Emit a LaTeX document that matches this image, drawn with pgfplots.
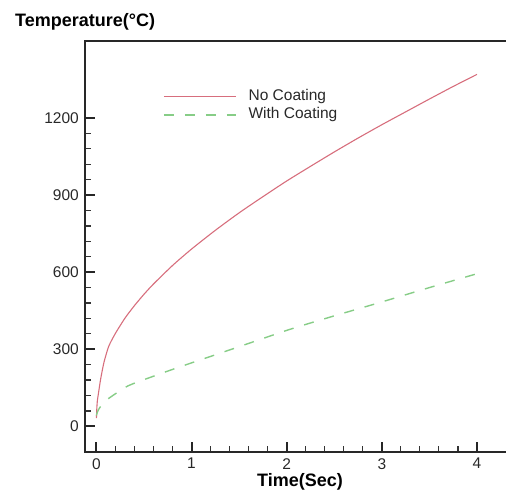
\documentclass[border=0pt]{standalone}
\usepackage{fontspec}
\setmainfont{Liberation Sans}
\usepackage{pgfplots}
\pgfplotsset{compat=1.18}
\definecolor{redline}{RGB}{215,110,125}
\definecolor{greenline}{RGB}{135,205,135}
\definecolor{axgray}{RGB}{40,40,40}
\begin{document}
\begin{tikzpicture}
\useasboundingbox (-85pt,-41pt) rectangle (421pt,452pt);
\begin{axis}[
  at={(0pt,0pt)}, anchor=south west,
  scale only axis,
  width=430pt, height=411pt,
  xmin=-0.12, xmax=4.4,
  ymin=-100, ymax=1500,
  xtick={0,1,2,3,4},
  ytick={0,300,600,900,1200},
  minor x tick num=4,
  minor y tick num=4,
  xtick pos=bottom,
  ytick pos=left,
  tick align=inside,
  major tick length=10.5pt,
  minor tick length=6pt,
  major tick style={line width=2pt, draw=black!85},
  minor tick style={line width=1.2pt, draw=black!80},
  axis line style={line width=1.6pt, draw=axgray},
  /pgf/number format/assume math mode=true,
  /pgf/number format/1000 sep={},
  ticklabel style={font=\fontsize{15.5}{18}\selectfont, text=axgray},
  yticklabel style={inner sep=0pt, xshift=-6pt},
  xticklabel style={inner sep=0pt, yshift=-6pt},
  xlabel={\bfseries Time(Sec)},
  every axis x label/.style={at={(axis description cs:0.5,0)}, anchor=base, yshift=-34.5pt, inner sep=0pt, text height=12.5pt, font=\fontsize{18}{21}\selectfont},
  legend style={draw=none, fill=none, inner sep=0pt, row sep=4pt,
    at={(axis description cs:0.1814,0.8830)}, anchor=north west,
    font=\fontsize{15.5}{18}\selectfont,
    nodes={inner sep=0pt, text height=11pt, text depth=3.5pt, text=axgray}},
  legend image code/.code={\draw[#1] (0pt,0pt) -- (72pt,0pt); \path (84pt,0pt);},
  legend cell align=left,
]
\addplot[redline, line width=1.1pt, smooth, tension=0.4] coordinates {
(0.0,32) (0.005,75) (0.01,100) (0.02,125) (0.045,185) (0.08,250) (0.13,312)
(0.2,362) (0.3,421) (0.4,470) (0.5,514) (0.6,554) (0.8,626) (1.0,690)
(1.25,763) (1.5,831) (1.75,894) (2.0,955) (2.25,1012) (2.5,1068) (2.75,1122)
(3.0,1174) (3.25,1224) (3.5,1274) (3.75,1323) (4.0,1370)
};
\addlegendentry{No Coating}
\addplot[greenline, line width=1.4pt, dash pattern=on 10pt off 11pt, smooth, tension=0.4] coordinates {
(0.0,42) (0.01,55) (0.03,70) (0.06,85) (0.115,105) (0.33,157) (0.6,195) (0.85,228)
(1.12,262) (1.5,310) (2.03,377) (2.5,430) (2.98,482) (3.5,540) (4.0,594)
};
\addlegendentry{With Coating}
\end{axis}
\node[anchor=base west, inner sep=0pt, font=\fontsize{18}{21}\selectfont\bfseries] at (-70pt,425pt) {Temperature(°C)};
\end{tikzpicture}
\end{document}
